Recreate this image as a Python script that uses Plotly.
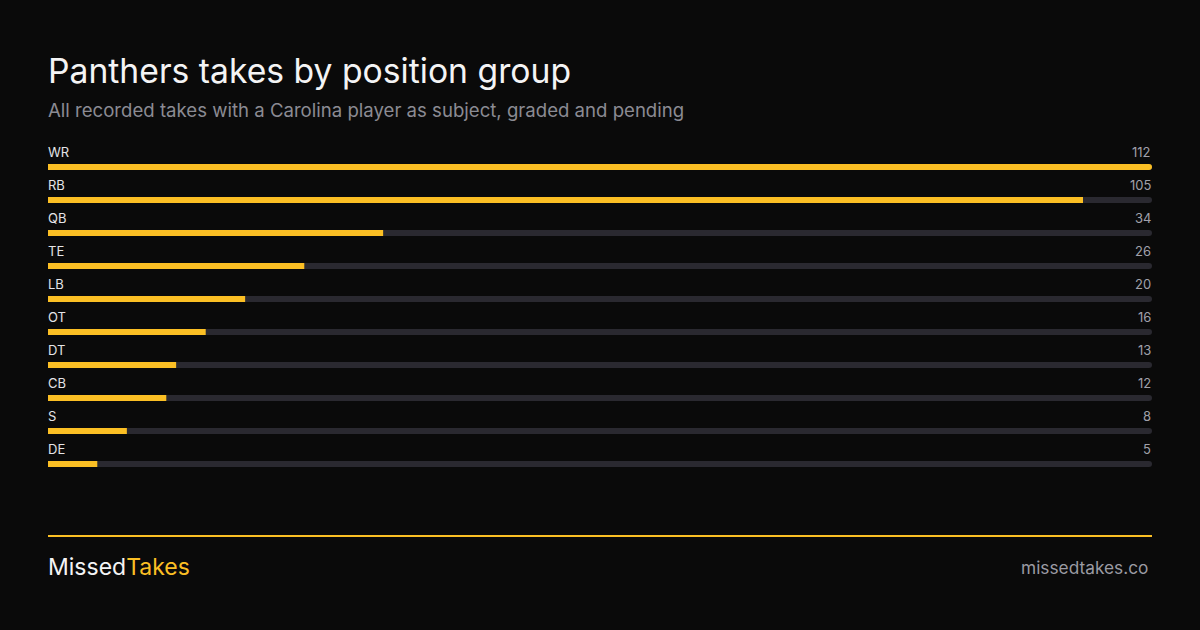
import plotly.graph_objects as go

# Data
positions = ['WR', 'RB', 'QB', 'TE', 'LB', 'OT', 'DT', 'CB', 'S', 'DE']
takes = [112, 105, 34, 26, 20, 16, 13, 12, 8, 5]

title = 'Panthers takes by position group'
subtitle = 'All recorded takes with a Carolina player as subject, graded and pending'

BG = '#0a0a0a'
GOLD = '#fbbf24'
TRACK = '#2a2930'
FONT = 'Inter'

W, H = 1200, 630
ROW = 33          # px between rows
FIRST = 167       # px of first bar centre
max_val = max(takes)
rows = list(range(len(positions)))

fig = go.Figure()

# background tracks
fig.add_trace(go.Bar(
    x=[max_val] * len(positions),
    y=rows,
    orientation='h',
    width=6 / ROW,
    marker=dict(color=TRACK, cornerradius=3, line=dict(width=0)),
    hoverinfo='skip',
))

# value bars
fig.add_trace(go.Bar(
    x=takes,
    y=rows,
    orientation='h',
    width=6 / ROW,
    marker=dict(color=GOLD, cornerradius=3, line=dict(width=0)),
    customdata=positions,
    hovertemplate='%{customdata}: %{x}<extra></extra>',
))

# row labels and values
for i, (pos, val) in enumerate(zip(positions, takes)):
    fig.add_annotation(x=0, y=i - 15 / ROW, xref='paper', yref='y', text=pos,
                       showarrow=False, xanchor='left', yanchor='middle', xshift=-2,
                       font=dict(family=FONT, size=13, color='#e4e4e7'))
    fig.add_annotation(x=1, y=i - 15 / ROW, xref='paper', yref='y', text=str(val),
                       showarrow=False, xanchor='right', yanchor='middle', xshift=1,
                       font=dict(family=FONT, size=13, color='#a1a1aa'))

# title + subtitle
fig.add_annotation(x=0, y=1 - 70 / H, xref='paper', yref='paper', text=title,
                   showarrow=False, xanchor='left', yanchor='middle', xshift=-2,
                   font=dict(family=FONT, size=33.7, color='#f4f4f5'))
fig.add_annotation(x=0, y=1 - 110 / H, xref='paper', yref='paper', text=subtitle,
                   showarrow=False, xanchor='left', yanchor='middle', xshift=-2,
                   font=dict(family=FONT, size=18.6, color='#8b8b93'))

# footer
fig.add_shape(type='line', xref='paper', yref='paper', x0=0, x1=1,
              y0=1 - 536 / H, y1=1 - 536 / H, line=dict(color=GOLD, width=2))
fig.add_annotation(x=0, y=1 - 567 / H, xref='paper', yref='paper',
                   text=f"<span style='color:#f4f4f5'>Missed</span><span style='color:{GOLD}'>Takes</span>",
                   showarrow=False, xanchor='left', yanchor='middle', xshift=-2,
                   font=dict(family=FONT, size=23, color='#f4f4f5'))
fig.add_annotation(x=1, y=1 - 567 / H, xref='paper', yref='paper', text='missedtakes.co',
                   showarrow=False, xanchor='right', yanchor='middle', xshift=-2,
                   font=dict(family=FONT, size=17.3, color='#9b9ba3'))

fig.update_layout(
    width=W, height=H,
    paper_bgcolor=BG, plot_bgcolor=BG,
    margin=dict(l=48, r=48, t=0, b=0),
    barmode='overlay',
    showlegend=False,
    xaxis=dict(range=[0, max_val], visible=False, fixedrange=True),
    yaxis=dict(range=[(H - FIRST) / ROW, -FIRST / ROW], visible=False, fixedrange=True),
)

# drop the default page margin so the figure sits at the window's corner
fig.write_html('out.html', config={'displayModeBar': False},
               post_script="document.body.style.margin='0';")
